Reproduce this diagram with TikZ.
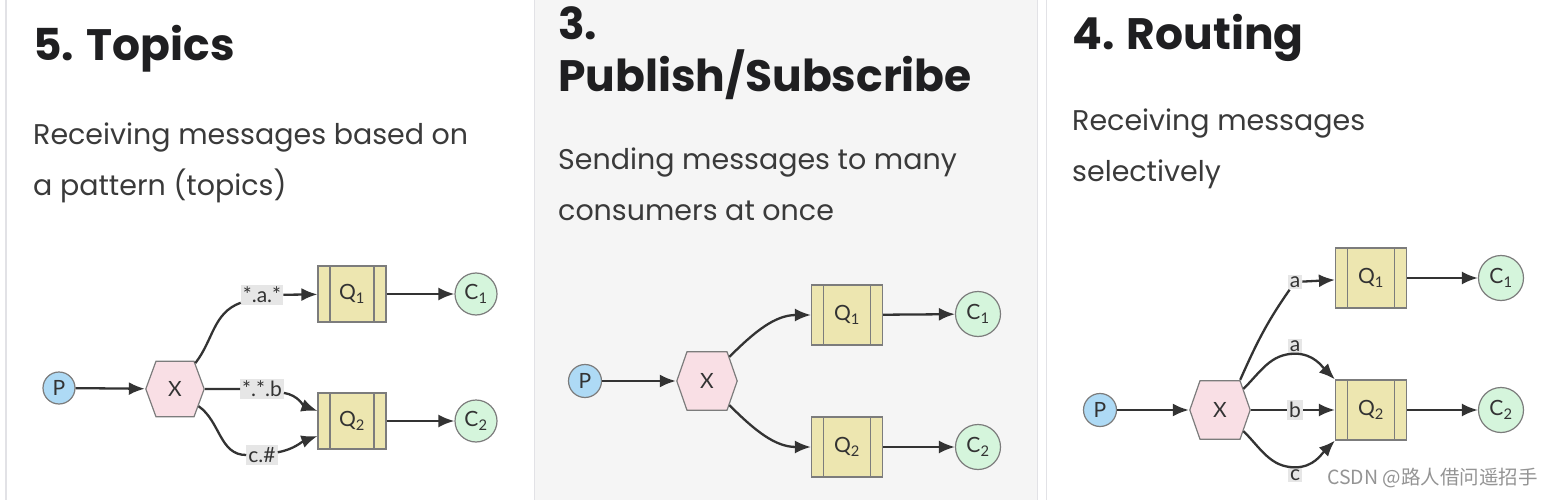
\documentclass[tikz,border=0pt]{standalone}
\usepackage{fontspec}
\setmainfont{Lato}
\newfontfamily\pagefont{Poppins}
\newfontfamily\cjkfont{Noto Sans CJK SC}
\usepackage{xcolor}
\usetikzlibrary{arrows.meta}
\usetikzlibrary{calc}
\definecolor{lineGray}{HTML}{E2E2E6}
\definecolor{panelGray}{HTML}{F5F5F5}
\definecolor{edgeDark}{HTML}{333333}
\definecolor{borderGray}{HTML}{7C7C7C}
\definecolor{prodBlue}{HTML}{AEDAF5}
\definecolor{exchPink}{HTML}{F9DFE5}
\definecolor{queueKhaki}{HTML}{EDE6B0}
\definecolor{consGreen}{HTML}{D5F5DC}
\definecolor{titleBlack}{HTML}{1F1F21}
\definecolor{bodyGray}{HTML}{3A3A3A}
\definecolor{tagGray}{HTML}{E6E6E6}

\tikzset{
  nodetext/.style={font=\fontsize{21}{21}\selectfont, text=black!80},
  prod/.style={circle, draw=borderGray, fill=prodBlue, line width=1.2pt, minimum size=33pt, inner sep=0pt, nodetext},
  % hexagon drawn inside a plain box: left/right tips, flat top and bottom
  exch/.style={rectangle, minimum width=62pt, minimum height=60pt, inner sep=0pt, nodetext,
    path picture={
      \draw[fill=exchPink, draw=borderGray, line width=1.2pt]
        ([xshift=0.8pt]path picture bounding box.west)
        -- ([shift={(11pt,-0.7pt)}]path picture bounding box.north west)
        -- ([shift={(-11pt,-0.7pt)}]path picture bounding box.north east)
        -- ([xshift=-0.8pt]path picture bounding box.east)
        -- ([shift={(-11pt,0.7pt)}]path picture bounding box.south east)
        -- ([shift={(11pt,0.7pt)}]path picture bounding box.south west) -- cycle;
    }},
  queue/.style={rectangle, draw=borderGray, fill=queueKhaki, line width=1.2pt, minimum width=71pt, minimum height=60pt, inner sep=0pt, nodetext,
    path picture={
      \draw[borderGray, line width=1.2pt] ([xshift=12pt]path picture bounding box.north west) -- ([xshift=12pt]path picture bounding box.south west);
      \draw[borderGray, line width=1.2pt] ([xshift=-12pt]path picture bounding box.north east) -- ([xshift=-12pt]path picture bounding box.south east);
    }},
  cons/.style={circle, draw=borderGray, fill=consGreen, line width=1.2pt, minimum size=45pt, inner sep=0pt, nodetext},
  tag/.style={fill=tagGray, inner sep=2pt, font=\fontsize{21}{21}\selectfont, text=black!80},
  edge/.style={-{Latex[length=16pt,width=13pt]}, line width=2.3pt, draw=edgeDark},
  heading/.style={anchor=base west, inner sep=0pt, align=left, text=titleBlack, font=\pagefont\bfseries\fontsize{44}{52}\selectfont},
  blurb/.style={anchor=base west, inner sep=0pt, align=left, text=bodyGray, font=\pagefont\fontsize{28.5}{51}\selectfont},
}

\begin{document}
\begin{tikzpicture}[x=1pt,y=1pt]
\useasboundingbox (0,0) rectangle (1558,-500);

% panels
\fill[white] (0,0) rectangle (1558,-500);
\fill[panelGray] (534.5,0) rectangle (1037.5,-500);
\foreach \xx in {6,534.5,1037.5,1046.5}
  \draw[lineGray, line width=1.5pt] (\xx,0) -- (\xx,-500);

% texts (multi-line nodes sit on their last baseline)
\node[heading] (t1) at (33,-61) {5. Topics};
\node[blurb] (b1) at (33,-195) {Receiving messages based on\\a pattern (topics)};
\node[heading] (t2) at (558,-92) {3.\\Publish/Subscribe};
\node[blurb] (b2) at (558,-220) {Sending messages to many\\consumers at once};
\node[heading] (t3) at (1072,-50) {4. Routing};
\node[blurb] (b3) at (1072,-181) {Receiving messages\\selectively};

% topics
\begin{scope}[queue/.append style={minimum width=68pt, minimum height=56pt},
  exch/.append style={minimum width=60pt, minimum height=57pt},
  cons/.append style={minimum size=42pt}, prod/.append style={minimum size=32pt}]
\node[prod] (P1) at (59,-388) {P};
\node[exch] (X1) at (175,-389) {X};
\node[queue] (Q11) at (352,-294) {Q\textsubscript{1}};
\node[queue] (Q12) at (352,-421) {Q\textsubscript{2}};
\node[cons] (C11) at (476,-294) {C\textsubscript{1}};
\node[cons] (C12) at (476,-421) {C\textsubscript{2}};
\node[tag] (k11) at (262,-295) {*.a.*};
\node[tag] (k12) at (262,-389) {*.*.b};
\node[tag] (k13) at (262,-455) {c.\#};

\draw[edge] (P1) -- (X1);
\draw[edge] ($(X1.east)!0.9!([xshift=-11pt]X1.north east)$) to[out=52,in=200] (k11) -- (Q11);
\draw[edge] (X1) -- (k12) to[out=-10,in=160] ([yshift=10pt]Q12.west);
\draw[edge] ($(X1.east)!0.6!([xshift=-11pt]X1.south east)$) to[out=-35,in=180] (k13) to[out=10,in=200] ([yshift=-15pt]Q12.west);
\draw[edge] (Q11) -- (C11);
\draw[edge] (Q12) -- (C12);
\end{scope}

% publish/subscribe
\node[prod] (P2) at (585,-381) {P};
\node[exch] (X2) at (707,-381) {X};
\node[queue] (Q21) at (847,-315) {Q\textsubscript{1}};
\node[queue] (Q22) at (847,-447) {Q\textsubscript{2}};
\node[cons] (C21) at (978,-314) {C\textsubscript{1}};
\node[cons] (C22) at (978,-447) {C\textsubscript{2}};

\draw[edge] (P2) -- (X2);
\draw[edge] ($(X2.east)!0.8!([xshift=-11pt]X2.north east)$) to[out=45,in=180] (Q21.west);
\draw[edge] ($(X2.east)!0.8!([xshift=-11pt]X2.south east)$) to[out=-45,in=180] (Q22.west);
\draw[edge] (Q21) -- (C21);
\draw[edge] (Q22) -- (C22);

% routing
\node[prod] (P3) at (1100,-410) {P};
\node[exch] (X3) at (1220,-410) {X};
\node[queue] (Q31) at (1371,-278) {Q\textsubscript{1}};
\node[queue] (Q32) at (1371,-410) {Q\textsubscript{2}};
\node[cons] (C31) at (1501,-278) {C\textsubscript{1}};
\node[cons] (C32) at (1501,-410) {C\textsubscript{2}};
\node[tag] (k31) at (1295,-282) {a};
\node[tag] (k32) at (1295,-346) {a};
\node[tag] (k33) at (1295,-410) {b};
\node[tag] (k34) at (1295,-475) {c};

\draw[edge] (P3) -- (X3);
\draw[edge] ([xshift=-11pt]X3.north east) to[out=66,in=235] (k31) -- (Q31);
\draw[edge] ($(X3.east)!0.7!([xshift=-11pt]X3.north east)$) to[out=45,in=180] (k32.south) to[out=0,in=135] (Q32.north west);
\draw[edge] (X3) -- (k33) -- (Q32);
\draw[edge] ($(X3.east)!0.7!([xshift=-11pt]X3.south east)$) to[out=-45,in=180] (k34.north) to[out=0,in=-135] (Q32.south west);
\draw[edge] (Q31) -- (C31);
\draw[edge] (Q32) -- (C32);

\node[anchor=east, inner sep=0pt, text=black!42, font=\cjkfont\fontsize{19.5}{20}\selectfont] (wm) at (1538,-478) {CSDN @路人借问遥招手};

\end{tikzpicture}
\end{document}
